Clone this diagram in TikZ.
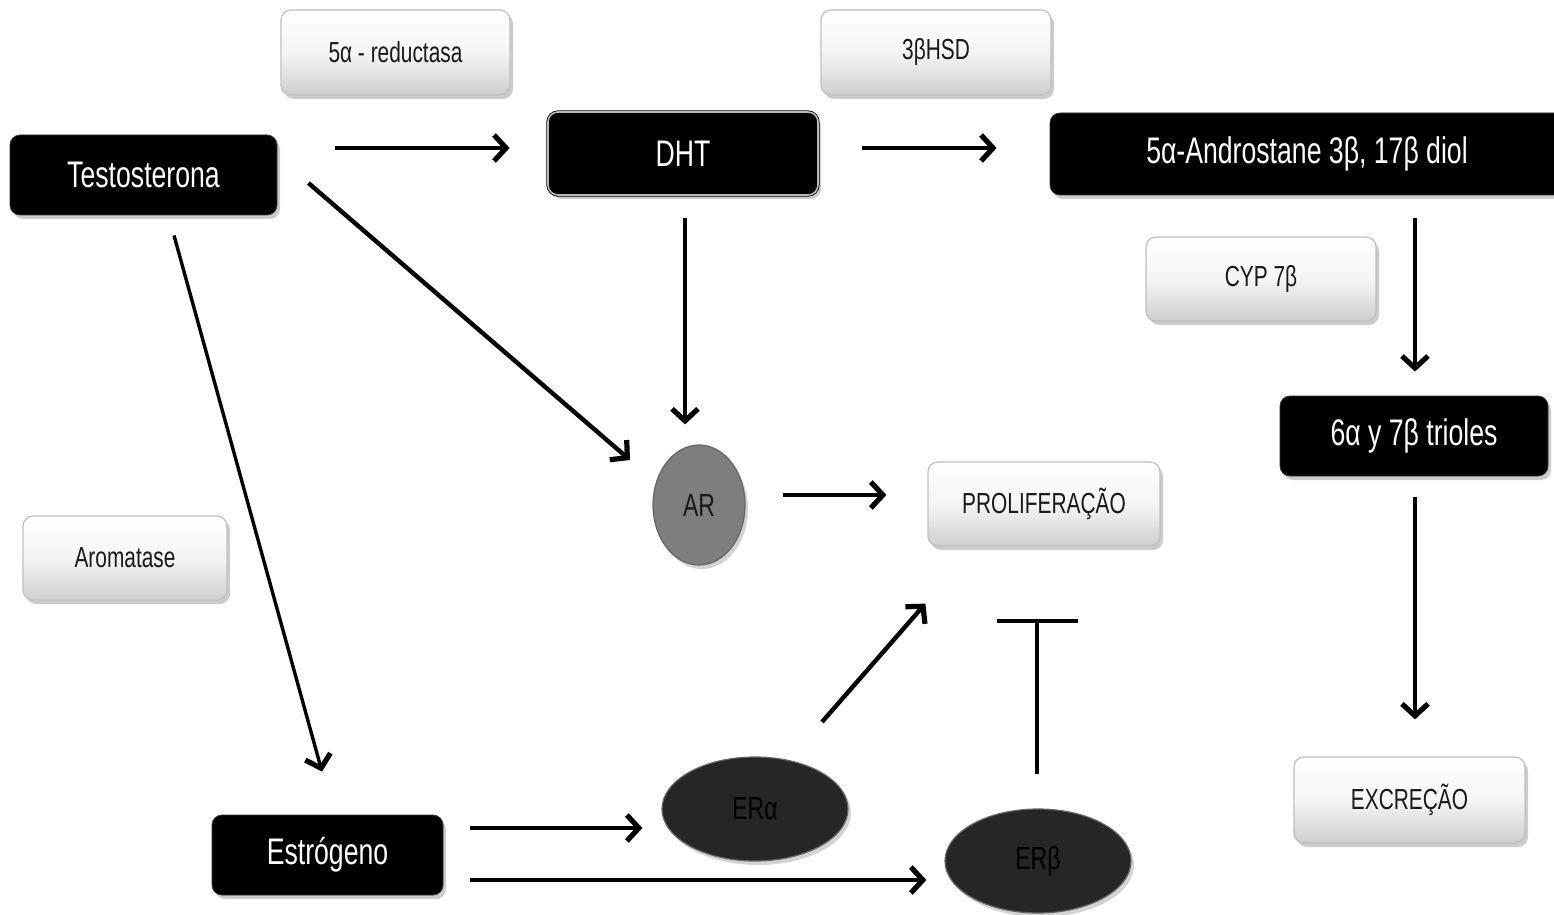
\documentclass[tikz,border=0pt]{standalone}
\usepackage{fontspec}
\setmainfont{Liberation Sans}[FakeStretch=0.72]
\usetikzlibrary{shapes.geometric,arrows.meta,calc,shadows}
\begin{document}
\begin{tikzpicture}[x=0.5pt,y=-0.5pt,
  lightbox/.style={draw=gray!50, line width=0.6pt, rounded corners=5pt,
    top color=white, bottom color=gray!38, middle color=gray!8,
    drop shadow={shadow xshift=1.5pt,shadow yshift=-2pt,opacity=0.4},
    font=\fontsize{14.5}{16}\selectfont, text=black!90, inner sep=0pt},
  darkbox/.style={fill=black, draw=black!80, rounded corners=5pt,
    drop shadow={shadow xshift=1.5pt,shadow yshift=-2pt,opacity=0.4},
    font=\fontsize{18.5}{21}\selectfont, text=white, inner sep=0pt},
  oval/.style={ellipse, draw=black!60, line width=0.6pt,
    drop shadow={shadow xshift=1.5pt,shadow yshift=-2pt,opacity=0.35},
    font=\fontsize{16}{18}\selectfont, inner sep=0pt},
  arr/.style={-{Straight Barb[length=6pt,width=13pt,line width=2.6pt]}, line width=2.2pt},
  inh/.style={-{Bar[width=40.5pt]}, line width=2.2pt}
]
\useasboundingbox (0,0) rectangle (1554,915);

% light (enzyme / outcome) boxes
\node[lightbox, minimum width=114.5pt, minimum height=42.5pt] (red) at (395.5,52.5) {5α - reductasa};
\node[lightbox, minimum width=115pt, minimum height=42.5pt] (hsd) at (936,52.5) {3βHSD};
\node[lightbox, minimum width=115pt, minimum height=42pt] (cyp) at (1261,279) {CYP 7β};
\node[lightbox, minimum width=116pt, minimum height=42pt] (prolif) at (1044,504) {PROLIFERAÇÃO};
\node[lightbox, minimum width=102pt, minimum height=42pt] (arom) at (125,558) {Aromatase};
\node[lightbox, minimum width=115.5pt, minimum height=43pt] (excr) at (1409.5,800) {EXCREÇÃO};

% dark (molecule) boxes
\node[darkbox, minimum width=133.5pt, minimum height=40pt] (testo) at (143.5,175) {Testosterona};
\node[darkbox, draw=black, double=gray!55, double distance=0.8pt, minimum width=135pt, minimum height=41.5pt] (dht) at (683,153.5) {DHT};
\node[darkbox, minimum width=257pt, minimum height=41pt] (andro) at (1307,154) {5α-Androstane 3β, 17β diol};
\node[darkbox, minimum width=134pt, minimum height=40pt] (trioles) at (1414,436) {6α y 7β trioles};
\node[darkbox, minimum width=115.5pt, minimum height=40pt] (estro) at (327.5,855) {Estrógeno};

% receptors
\node[oval, fill=gray!55!black!70, minimum width=46pt, minimum height=60pt, text=black!90] (ar) at (699,505) {AR};
\node[oval, fill=black!85, minimum width=93pt, minimum height=52pt, text=black] (era) at (755,809) {ERα};
\node[oval, fill=black!85, minimum width=93pt, minimum height=52pt, text=black] (erb) at (1038,861) {ERβ};

% connectors
\draw[arr] ($(testo.east)+(58,-27)$) -- ($(dht.west)+(-38,-5.5)$);
\draw[arr] ($(dht.east)+(44,-5.5)$) -- ($(andro.west)+(-53,-6)$);
\draw[arr] ($(testo.east)+(31,8)$) -- ($(ar.center)+(-69,-45)$);
\draw[arr] ($(dht.south)+(2,23)$) -- ($(ar.north)+(-14,-20)$);
\draw[arr, line width=1.7pt] ($(testo.south)+(30.5,20)$) -- ($(estro.north)+(-5.5,-43)$);
\draw[arr] ($(andro.south)+(108,23)$) -- ($(trioles.north)+(1,-24)$);
\draw[arr] ($(trioles.south)+(1,21)$) -- ($(excr.north)+(5.5,-37)$);
\draw[arr] ($(ar.east)+(37,-10)$) -- ($(prolif.west)+(-41,-9)$);
\draw[arr] ($(era.center)+(67,-87)$) -- ($(prolif.south west)+(-2,57)$);
\draw[inh] ($(erb.north)+(-1,-34)$) -- ($(prolif.south)+(-7,72)$);
\draw[arr] ($(estro.east)+(27,-27)$) -- ($(era.west)+(-19,19)$);
\draw[arr] ($(estro.east)+(27,25)$) -- ($(erb.west)+(-18,19)$);
\end{tikzpicture}
\end{document}
